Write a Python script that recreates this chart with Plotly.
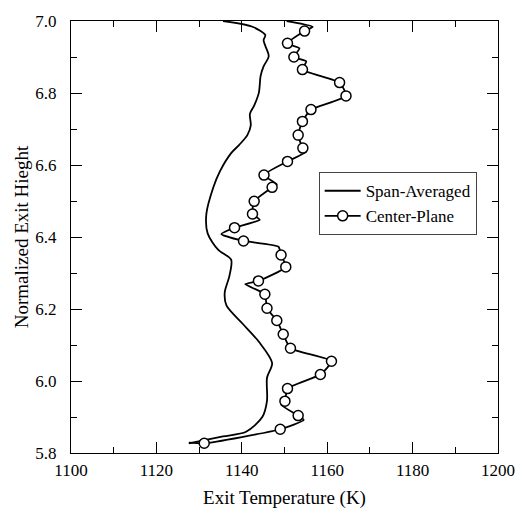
import plotly.graph_objects as go

# Span-averaged profile (temperature K, normalized height)
span_t = [1135.6, 1142.5, 1145.5, 1145.1, 1145.5, 1146.3, 1145.1, 1144.4, 1144.0, 1142.9,
          1141.9, 1142.1, 1141.3, 1139.4, 1137.5, 1134.9, 1133.3, 1131.7, 1132.0, 1134.5,
          1137.5, 1137.1, 1136.0, 1136.4, 1140.2, 1144.0, 1147.1, 1145.9, 1145.9, 1144.8,
          1141.0, 1135.6, 1127.6]
span_h = [7.000, 6.984, 6.961, 6.947, 6.931, 6.902, 6.874, 6.847, 6.801, 6.765,
          6.742, 6.710, 6.683, 6.656, 6.633, 6.583, 6.537, 6.464, 6.410, 6.364,
          6.337, 6.292, 6.246, 6.210, 6.159, 6.109, 6.050, 6.009, 5.945, 5.900,
          5.859, 5.846, 5.827]

# Center-plane line (all points)
cp_line_t = [1150.5, 1156.6, 1154.7, 1150.7, 1153.5, 1152.2, 1155.1, 1154.2, 1162.9, 1164.4,
             1156.2, 1154.2, 1153.2, 1154.3, 1155.1, 1150.7, 1145.2, 1148.2, 1147.1, 1142.9,
             1142.5, 1144.2, 1138.3, 1135.2, 1140.4, 1148.6, 1149.2, 1150.3, 1143.9, 1140.8,
             1145.4, 1145.9, 1148.2, 1149.7, 1151.4, 1161.0, 1158.4, 1150.7, 1150.1, 1149.2,
             1153.2, 1154.5, 1149.0, 1131.2, 1127.6]
cp_line_h = [7.000, 6.984, 6.972, 6.938, 6.924, 6.900, 6.888, 6.865, 6.829, 6.792,
             6.754, 6.721, 6.683, 6.647, 6.637, 6.610, 6.572, 6.546, 6.538, 6.499,
             6.464, 6.448, 6.426, 6.408, 6.389, 6.373, 6.350, 6.317, 6.278, 6.269,
             6.241, 6.202, 6.168, 6.130, 6.091, 6.055, 6.018, 5.979, 5.944, 5.934,
             5.904, 5.892, 5.866, 5.827, 5.829]

# Center-plane markers
cp_mark_t = [1154.7, 1150.7, 1152.2, 1154.2, 1162.9, 1164.4, 1156.2, 1154.2, 1153.2, 1154.3,
             1150.7, 1145.2, 1147.1, 1142.9, 1142.5, 1138.3, 1140.4, 1149.2, 1150.3, 1143.9,
             1145.4, 1145.9, 1148.2, 1149.7, 1151.4, 1161.0, 1158.4, 1150.7, 1150.1, 1153.2,
             1149.0, 1131.2]
cp_mark_h = [6.972, 6.938, 6.900, 6.865, 6.829, 6.792, 6.754, 6.721, 6.683, 6.647,
             6.610, 6.572, 6.538, 6.499, 6.464, 6.426, 6.389, 6.350, 6.317, 6.278,
             6.241, 6.202, 6.168, 6.130, 6.091, 6.055, 6.018, 5.979, 5.944, 5.904,
             5.866, 5.827]

x_ticks = [1100, 1120, 1140, 1160, 1180, 1200]
y_ticks = [5.8, 6.0, 6.2, 6.4, 6.6, 6.8, 7.0]

FONT = "Liberation Serif"

fig = go.Figure()
fig.add_trace(go.Scatter(x=span_t, y=span_h, mode="lines", name="Span-Averaged",
                         line=dict(color="black", width=1.8, shape="spline", smoothing=0.8)))
fig.add_trace(go.Scatter(x=cp_line_t, y=cp_line_h, mode="lines", showlegend=False,
                         line=dict(color="black", width=1.8, shape="spline", smoothing=0.5),
                         hoverinfo="skip"))
fig.add_trace(go.Scatter(x=cp_mark_t, y=cp_mark_h, mode="markers", showlegend=False,
                         marker=dict(symbol="circle", size=10, color="white",
                                     line=dict(color="black", width=1.5))))
fig.add_trace(go.Scatter(x=[None], y=[None], mode="lines+markers", name="Center-Plane",
                         line=dict(color="black", width=1.8),
                         marker=dict(symbol="circle", size=10, color="white",
                                     line=dict(color="black", width=1.5))))

axis_common = dict(showgrid=False, zeroline=False, showline=True, linecolor="black",
                   linewidth=1.2, mirror="ticks", ticks="inside", ticklen=11,
                   tickcolor="black", tickwidth=1,
                   tickfont=dict(family=FONT, size=17, color="black"))

fig.update_xaxes(range=[1100, 1200], tickvals=x_ticks,
                 ticktext=[str(v) for v in x_ticks],
                 minor=dict(dtick=10, ticks="inside", ticklen=6, tickcolor="black", showgrid=False),
                 title=dict(text="Exit Temperature (K)", font=dict(family=FONT, size=19, color="black"),
                            standoff=12),
                 ticklabelstandoff=1,
                 **axis_common)
fig.update_yaxes(range=[5.8, 7.0], tickvals=y_ticks,
                 ticktext=[f"{v:.1f}" for v in y_ticks],
                 minor=dict(dtick=0.1, ticks="inside", ticklen=6, tickcolor="black", showgrid=False),
                 title=dict(text="Normalized Exit Hieght", font=dict(family=FONT, size=19, color="black"),
                            standoff=1),
                 ticklabelstandoff=10,
                 **axis_common)

fig.update_layout(
    width=527, height=518,
    margin=dict(l=71, r=19, t=14, b=65),
    plot_bgcolor="white", paper_bgcolor="white",
    showlegend=True,
    legend=dict(x=0.58, y=0.65, xanchor="left", yanchor="top",
                bordercolor="#444", borderwidth=1, bgcolor="white",
                font=dict(family=FONT, size=17, color="black"),
                tracegroupgap=0, itemwidth=36),
)

fig.write_html("out.html")
